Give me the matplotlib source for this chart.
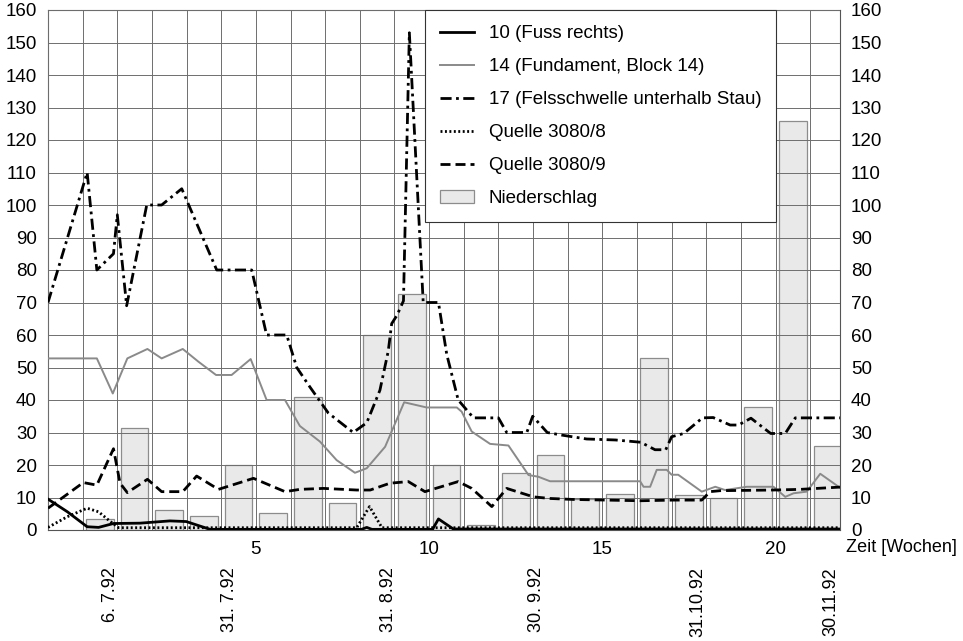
import matplotlib
matplotlib.use('Agg')
import matplotlib.pyplot as plt
from matplotlib.ticker import MultipleLocator

plt.rcParams['font.family'] = ['Liberation Sans', 'DejaVu Sans']

# Niederschlag, one bar per week (bar centre at week + 0.5)
rain_weeks = [0, 1, 2, 3, 4, 5, 6, 7, 8, 9, 10,
              11, 12, 13, 14, 15, 16, 17, 18, 19, 20, 21]
rain = [3.4, 31.5, 6.3, 4.3, 20, 5.2, 41, 8.3, 60, 72.5, 20,
        1.5, 17.5, 23, 9.5, 11, 53, 10.8, 10, 38, 126, 26]

# 10 (Fuss rechts)
s10_x = [-1.0, -0.44, 0.13, 0.46, 0.89, 1.65, 2.52, 2.99, 3.39, 3.68,
         8.05, 8.2, 8.35, 10.1, 10.27, 10.7, 21.86]
s10_y = [9.5, 5.6, 1.0, 0.8, 2.0, 2.1, 2.8, 2.6, 1.2, 0.2,
         0.2, 0.8, 0.2, 0.2, 3.4, 0.3, 0.3]

# 14 (Fundament, Block 14)
s14_x = [-1.0, 0.41, 0.87, 1.29, 1.87, 2.28, 2.89, 3.34, 3.85, 4.3,
         4.85, 5.31, 5.84, 6.27, 6.85, 7.33, 7.86, 8.2, 8.73, 9.28,
         9.93, 10.8, 10.94, 11.23, 11.76, 12.29, 12.87, 13.15, 13.49, 16.09,
         16.19, 16.38, 16.57, 16.86, 17.0, 17.19, 17.87, 18.26, 18.54, 19.17,
         19.94, 20.28, 20.52, 20.9, 21.29, 21.86]
s14_y = [52.8, 52.8, 42, 52.8, 55.7, 52.8, 55.7, 51.8, 47.7, 47.7,
         52.6, 40, 40, 32, 27.2, 21.5, 17.6, 19, 25.6, 39.3,
         37.7, 37.7, 36.4, 30.3, 26.5, 26, 16.9, 16.4, 15, 15,
         13.3, 13.3, 18.5, 18.5, 17, 17, 11.8, 13.3, 12.3, 13.3,
         13.3, 10.2, 11.3, 11.8, 17.3, 13]

# 17 (Felsschwelle unterhalb Stau)
s17_x = [-1.0, 0.13, 0.41, 0.89, 1.0, 1.27, 1.85, 2.28, 2.86, 3.87,
         4.88, 5.31, 5.89, 6.18, 6.56, 7.09, 7.81, 8.2, 8.58, 8.82,
         8.92, 9.07, 9.26, 9.43, 9.83, 10.27, 10.51, 10.84, 11.28, 12.0,
         12.24, 12.82, 12.99, 13.41, 13.83, 14.55, 15.38, 16.11, 16.52, 16.83,
         17.0, 17.35, 17.89, 18.2, 18.69, 18.93, 19.29, 19.86, 20.28, 20.57,
         21.86]
s17_y = [70, 110, 80, 85, 97, 69, 100, 100, 105, 80,
         80, 60, 60, 50, 44, 36, 30, 33, 43, 55,
         63.5, 66, 70.5, 153, 70, 70, 54, 40, 34.5, 34.5,
         30, 30, 35, 30, 29.2, 28, 27.7, 27, 24.7, 24.7,
         28.7, 29.7, 34.5, 34.6, 32.3, 32.3, 34.4, 29.7, 29.7, 34.5,
         34.5]

# Quelle 3080/8
q8_x = [-1.0, -0.44, 0.13, 0.46, 0.8, 1.04, 7.91, 8.28, 8.64, 21.86]
q8_y = [0.8, 4.1, 6.7, 5.6, 2.6, 0.7, 0.7, 7.2, 0.7, 0.7]

# Quelle 3080/9
q9_x = [-1.0, 0.02, 0.41, 0.89, 1.08, 1.29, 1.87, 2.28, 2.89, 3.29,
        3.92, 4.93, 5.84, 6.27, 6.95, 7.91, 8.3, 8.87, 9.4, 9.88,
        10.84, 11.23, 11.81, 12.24, 13.01, 13.49, 14.16, 15.13, 16.09, 17.05,
        17.87, 18.11, 18.4, 19.94, 20.71, 21.86]
q9_y = [6.7, 14.6, 13.8, 25, 14.4, 11.5, 15.6, 11.8, 11.8, 16.6,
        12.5, 15.9, 11.8, 12.5, 12.8, 12.3, 12.3, 14.4, 14.9, 11.8,
        14.9, 12.8, 7.2, 12.8, 10.2, 9.7, 9.4, 9.2, 9.0, 9.2,
        9.2, 11.8, 12.1, 12.3, 12.5, 13.2]

week_ticks = [5, 10, 15, 20]
date_labels = ['6. 7.92', '31. 7.92', '31. 8.92', '30. 9.92', '31.10.92', '30.11.92']
date_weeks = [0.79, 4.25, 8.82, 13.09, 17.76, 21.6]

fig = plt.figure(figsize=(9.63, 6.41), dpi=100)
ax = fig.add_axes([48 / 963, 1 - 530 / 641, 792 / 963, 520 / 641])

ax.plot(s10_x, s10_y, color='black', lw=2.0, zorder=4, label='10 (Fuss rechts)')
ax.plot(s14_x, s14_y, color='#8a8a8a', lw=1.4, zorder=4, label='14 (Fundament, Block 14)')
ax.plot(s17_x, s17_y, color='black', lw=2.0, dashes=(4, 1.6, 1, 1.6), zorder=4,
        label='17 (Felsschwelle unterhalb Stau)')
ax.plot(q8_x, q8_y, color='black', lw=2.0, dashes=(0.7, 0.9), zorder=4,
        label='Quelle 3080/8')
ax.plot(q9_x, q9_y, color='black', lw=2.0, dashes=(3.6, 1.8), zorder=4,
        label='Quelle 3080/9')
ax.bar([w + 0.5 for w in rain_weeks], rain, width=0.8, color='#e9e9e9',
       edgecolor='#8c8c8c', linewidth=0.9, zorder=1, label='Niederschlag')

ax.set_xlim(-1, 21.86)
ax.set_ylim(0, 160)
ax.set_xticks(week_ticks)
ax.xaxis.set_minor_locator(MultipleLocator(1))
ax.yaxis.set_major_locator(MultipleLocator(10))
ax.set_axisbelow(False)
ax.grid(True, which='both', color='#6e6e6e', lw=0.7, zorder=2)
for sp in ax.spines.values():
    sp.set_color('#555555')
    sp.set_linewidth(0.8)

ax.tick_params(axis='both', which='both', length=0, labelsize=13.5)
ax.tick_params(axis='x', pad=8)
ax.tick_params(axis='y', pad=8, labelright=True)

for lab, w in zip(date_labels, date_weeks):
    ax.text(w, -0.071, lab, rotation=90, ha='center', va='top', fontsize=13,
            transform=ax.get_xaxis_transform())

fig.text(846 / 963, 1 - 548 / 641, 'Zeit [Wochen]', ha='left', va='center', fontsize=13)

leg = ax.legend(loc='upper left', bbox_to_anchor=(425 / 963, 1 - 10 / 641),
                bbox_transform=fig.transFigure, borderaxespad=0,
                fancybox=False, framealpha=1, edgecolor='#333333',
                fontsize=13.5, labelspacing=0.85, handlelength=1.8,
                handletextpad=0.8, borderpad=0.8)
leg.get_frame().set_linewidth(0.8)
leg.set_zorder(10)

fig.savefig('out.png', dpi=100)
